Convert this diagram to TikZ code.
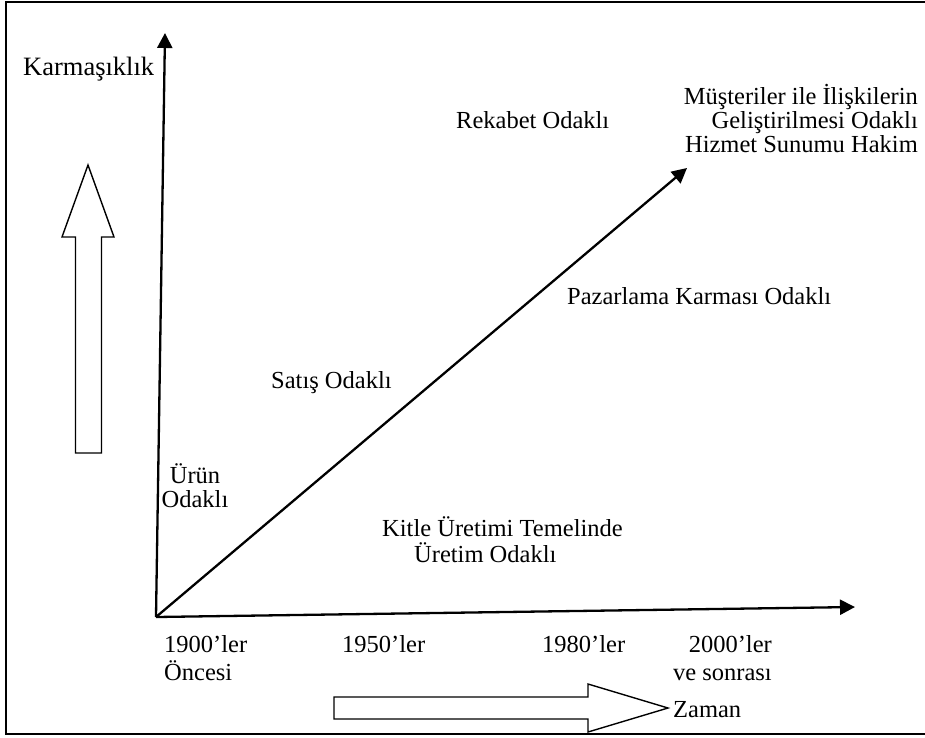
\documentclass[tikz,border=0pt]{standalone}
\usepackage{fontspec}
\setmainfont{Liberation Serif}
\usetikzlibrary{arrows.meta}

\begin{document}
\begin{tikzpicture}[
  x=1pt,y=-1pt,
  font=\fontsize{24.5}{24}\selectfont,
  axis/.style={-{Triangle[length=15pt,width=15pt]},line width=2.3pt},
  frame/.style={line width=2pt},
  hollow/.style={draw,line width=1.4pt,fill=white,line join=miter},
  label/.style={inner sep=0pt,anchor=base west},
  block/.style={inner sep=0pt}
]
\useasboundingbox (0,0) rectangle (925,737);

% Outer frame, open on the right side.
\draw[frame] (940,2) -- (6,2) -- (6,734) -- (940,734);

% -------------------------------------------------------------------------
% Axes and the growth line.
% -------------------------------------------------------------------------
\coordinate (origin) at (156,617);
\coordinate (ytip) at (165,33);
\coordinate (xtip) at (855,607);
\coordinate (dtip) at (687,168);
\draw[axis] (origin) -- (ytip);
\draw[axis] (origin) -- (xtip);
\draw[axis] (origin) -- (dtip);

% Hollow block arrows for complexity and time.
\draw[hollow] (75.5,453) -- (75.5,237) -- (62,237) -- (88,165) -- (114,237)
  -- (101.5,237) -- (101.5,453) -- cycle;
\draw[hollow] (334,697) -- (588,697) -- (588,684) -- (668,708) -- (588,732)
  -- (588,719) -- (334,719) -- cycle;

% -------------------------------------------------------------------------
% Labels.
% -------------------------------------------------------------------------
\node[label,font=\fontsize{26.5}{26}\selectfont] (karma) at (23,75) {Karmaşıklık};
\node[block,align=right,anchor=north east] (musteri) at (918,84)
  {Müşteriler ile İlişkilerin\\Geliştirilmesi Odaklı\\Hizmet Sunumu Hakim};
\node[label] (rekabet) at (456,128) {Rekabet Odaklı};
\node[label] (pazar) at (567,304) {Pazarlama Karması Odaklı};
\node[label] (satis) at (271,388) {Satış Odaklı};
\node[block,align=center,anchor=north] (urun) at (195,463)
  {Ürün\\Odaklı};
\node[block,align=left,anchor=north west] (kitle) at (382,516)
  {Kitle Üretimi Temelinde\\[2pt]\hspace*{32pt}Üretim Odaklı};

% Time axis labels.
\node[block,align=left,anchor=north west] (t1900) at (164,635)
  {1900’ler\\[4pt]Öncesi};
\node[label] (t1950) at (342,652) {1950’ler};
\node[label] (t1980) at (542,652) {1980’ler};
\node[block,align=right,anchor=north east] (t2000) at (772,635)
  {2000’ler\\[4pt]ve sonrası};
\node[label] (zaman) at (673,717) {Zaman};
\end{tikzpicture}
\end{document}
